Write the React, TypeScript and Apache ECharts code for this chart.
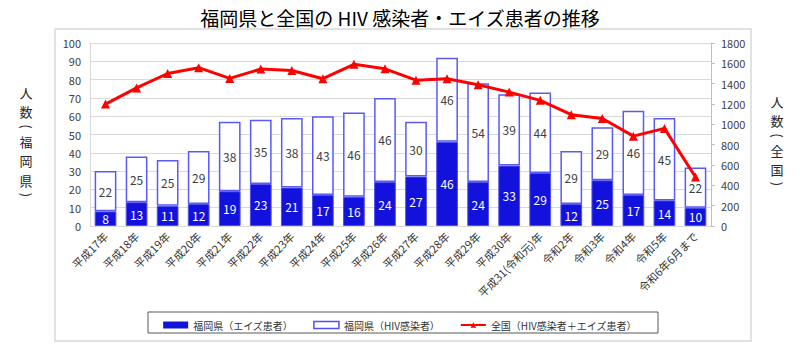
import React, { useEffect, useRef } from "react";
import * as echarts from "echarts";

const categories = [
  "平成17年", "平成18年", "平成19年", "平成20年", "平成21年", "平成22年", "平成23年",
  "平成24年", "平成25年", "平成26年", "平成27年", "平成28年", "平成29年", "平成30年",
  "平成31(令和元)年", "令和2年", "令和3年", "令和4年", "令和5年", "令和6年6月まで",
];
const fukuokaAids = [8, 13, 11, 12, 19, 23, 21, 17, 16, 24, 27, 46, 24, 33, 29, 12, 25, 17, 14, 10];
const fukuokaHiv = [22, 25, 25, 29, 38, 35, 38, 43, 46, 46, 30, 46, 54, 39, 44, 29, 29, 46, 45, 22];
const nationalTotal = [1199, 1358, 1500, 1557, 1452, 1544, 1529, 1449, 1590, 1546, 1434, 1448, 1389, 1317, 1236, 1095, 1057, 884, 960, 482];
const leftTicks = { min: 0, max: 100, interval: 10 };
const rightTicks = { min: 0, max: 1800, interval: 200 };

const seriesNames = ["福岡県（エイズ患者）", "福岡県（HIV感染者）", "全国（HIV感染者＋エイズ患者）"];
const titleText = "福岡県と全国の HIV 感染者・エイズ患者の推移";
const leftTitle = ["人", "数", "(", "福", "岡", "県", ")"];
const rightTitle = ["人", "数", "(", "全", "国", ")"];

const FONT = "'Noto Sans CJK JP', 'Noto Sans', sans-serif";

function verticalTitle(chars: string[], x: number, ys: number[]) {
  return chars.map((c, i) => {
    const isParen = c === "(" || c === ")";
    return {
      type: "text",
      x,
      y: ys[i],
      rotation: isParen ? -Math.PI / 2 : 0,
      style: {
        text: c,
        fontSize: 13,
        lineHeight: 13,
        fontFamily: FONT,
        fill: "#262626",
        align: "center",
        verticalAlign: "middle",
      },
    };
  });
}

export default function App() {
  const ref = useRef<HTMLDivElement>(null);
  useEffect(() => {
    document.body.style.margin = "0";
    if (!ref.current) return;
    const chart = echarts.init(ref.current, null, { renderer: "svg" });
    chart.setOption({
      animation: false,
      backgroundColor: "#ffffff",
      textStyle: { fontFamily: FONT },
      title: {
        text: titleText,
        left: "center",
        top: 3,
        textStyle: { fontSize: 19, fontWeight: "normal", color: "#000", fontFamily: FONT },
      },
      grid: { left: 90, right: 89, top: 43, bottom: 120, containLabel: false },
      legend: {
        left: "center",
        top: 315,
        itemWidth: 25,
        itemHeight: 7,
        itemGap: 20,
        textStyle: { fontSize: 10, color: "#333", fontFamily: FONT },
        data: [
          { name: seriesNames[0], icon: "rect", itemStyle: { color: "#1212DC", borderWidth: 0 } },
          { name: seriesNames[1], icon: "rect", itemStyle: { color: "#fff", borderColor: "#5050F0", borderWidth: 1.5 } },
          { name: seriesNames[2] },
        ],
      },
      graphic: [
        {
          type: "rect",
          z: -10,
          shape: { x: 55, y: 29, width: 696, height: 312 },
          style: { fill: "none", stroke: "#d9d9d9", lineWidth: 1.5 },
        },
        {
          type: "rect",
          z: -5,
          shape: { x: 148, y: 312, width: 510, height: 21 },
          style: { fill: "none", stroke: "#595959", lineWidth: 1 },
        },
        ...verticalTitle(leftTitle, 26, [92, 111.5, 126.5, 141, 160.5, 180, 195]),
        ...verticalTitle(rightTitle, 777, [101, 120.5, 135.5, 150, 169.5, 184]),
      ],
      xAxis: {
        type: "category",
        data: categories,
        axisTick: { show: false },
        axisLine: { lineStyle: { color: "#d9d9d9" } },
        axisLabel: { rotate: 45, interval: 0, fontSize: 11, color: "#333", margin: 8, fontFamily: FONT },
      },
      yAxis: [
        {
          type: "value",
          ...leftTicks,
          axisLine: { show: true, lineStyle: { color: "#d9d9d9" } },
          axisTick: { show: false },
          splitLine: { lineStyle: { color: "#d9d9d9" } },
          axisLabel: { fontSize: 11, color: "#404040", margin: 9 },
        },
        {
          type: "value",
          ...rightTicks,
          position: "right",
          axisLine: { show: true, lineStyle: { color: "#bfbfbf" } },
          axisTick: { show: true, length: 4, lineStyle: { color: "#bfbfbf" } },
          splitLine: { show: false },
          axisLabel: { fontSize: 11, color: "#404040", margin: 10, formatter: (v: number) => String(v) },
        },
      ],
      series: [
        {
          name: seriesNames[0],
          type: "bar",
          stack: "f",
          barWidth: "70%",
          data: fukuokaAids,
          itemStyle: { color: "#1212DC", borderColor: "#5050F0", borderWidth: 1 },
          label: { show: true, position: "inside", color: "#fff", fontSize: 12 },
        },
        {
          name: seriesNames[1],
          type: "bar",
          stack: "f",
          barWidth: "70%",
          data: fukuokaHiv,
          itemStyle: { color: "#fff", borderColor: "#5a5aF5", borderWidth: 1.5 },
          label: { show: true, position: "inside", color: "#404040", fontSize: 12 },
        },
        {
          name: seriesNames[2],
          type: "line",
          yAxisIndex: 1,
          data: nationalTotal,
          symbol: "triangle",
          symbolSize: 9,
          lineStyle: { color: "#ff0000", width: 3 },
          itemStyle: { color: "#ff0000" },
          z: 5,
        },
      ],
    });
    return () => chart.dispose();
  }, []);
  return <div ref={ref} style={{ width: 800, height: 346 }} />;
}
